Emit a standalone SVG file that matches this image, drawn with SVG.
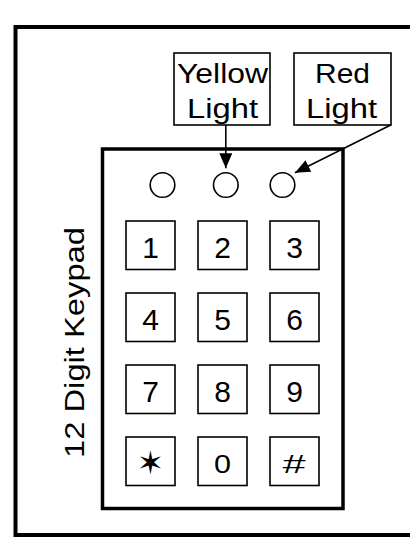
<svg xmlns="http://www.w3.org/2000/svg" width="410" height="557" viewBox="0 0 410 557">
<style>
.lbl{font-family:"Liberation Sans",Arial,sans-serif;font-size:27.5px;fill:#000;text-anchor:middle}
.dig{font-family:"Liberation Sans",Arial,sans-serif;font-size:30px;fill:#000;text-anchor:middle}
.key{fill:#fff;stroke:#000;stroke-width:1.6}
.led{fill:#fff;stroke:#000;stroke-width:1.6}
.box{fill:#fff;stroke:#000;stroke-width:1.6}
.conn{stroke:#000;stroke-width:1.6;fill:none}
</style>
<defs>
<marker id="ah" markerUnits="userSpaceOnUse" markerWidth="16" markerHeight="14" refX="15" refY="6.5" orient="auto">
<path d="M0,0 L15,6.5 L0,13 Z" fill="#000"/>
</marker>
</defs>
<rect width="410" height="557" fill="#fff"/>
<g id="frame"><rect x="15.5" y="27" width="420" height="508" fill="none" stroke="#000" stroke-width="4"/></g>
<g id="keypad">
<rect x="102.5" y="149" width="240.5" height="359.5" fill="#fff" stroke="#000" stroke-width="3.5"/>
<text transform="translate(83.5,342.5) rotate(-90)" class="lbl" textLength="231" lengthAdjust="spacingAndGlyphs">12 Digit Keypad</text>
</g>
<g id="leds">
<circle class="led" cx="162.5" cy="185" r="12.3"/>
<circle class="led" cx="225.8" cy="185" r="12.3"/>
<circle class="led" cx="282.5" cy="185" r="12.3"/>
</g>
<g id="yellow-light">
<rect class="box" x="174" y="53" width="96" height="72"/>
<text class="lbl" x="222.5" y="83.3" textLength="91" lengthAdjust="spacingAndGlyphs">Yellow</text>
<text class="lbl" x="222.5" y="118.3" textLength="71" lengthAdjust="spacingAndGlyphs">Light</text>
</g>
<g id="red-light">
<rect class="box" x="294" y="53" width="97" height="72"/>
<text class="lbl" x="342.5" y="83.3" textLength="55" lengthAdjust="spacingAndGlyphs">Red</text>
<text class="lbl" x="341.5" y="118.3" textLength="71" lengthAdjust="spacingAndGlyphs">Light</text>
</g>
<g id="connectors">
<line class="conn" x1="225.8" y1="125" x2="225.8" y2="168.3" marker-end="url(#ah)"/>
<line class="conn" x1="390.7" y1="125" x2="295" y2="172.7" marker-end="url(#ah)"/>
</g>
<g id="keys">
<g id="k1"><rect class="key" x="126" y="221" width="49" height="48.5"/><text class="dig" x="150.5" y="257.5">1</text></g>
<g id="k2"><rect class="key" x="198" y="221" width="49" height="48.5"/><text class="dig" x="222.5" y="257.5">2</text></g>
<g id="k3"><rect class="key" x="270" y="221" width="49" height="48.5"/><text class="dig" x="294.5" y="257.5">3</text></g>
<g id="k4"><rect class="key" x="126" y="293" width="49" height="48.5"/><text class="dig" x="150.5" y="329.5">4</text></g>
<g id="k5"><rect class="key" x="198" y="293" width="49" height="48.5"/><text class="dig" x="222.5" y="329.5">5</text></g>
<g id="k6"><rect class="key" x="270" y="293" width="49" height="48.5"/><text class="dig" x="294.5" y="329.5">6</text></g>
<g id="k7"><rect class="key" x="126" y="365" width="49" height="48.5"/><text class="dig" x="150.5" y="401.5">7</text></g>
<g id="k8"><rect class="key" x="198" y="365" width="49" height="48.5"/><text class="dig" x="222.5" y="401.5">8</text></g>
<g id="k9"><rect class="key" x="270" y="365" width="49" height="48.5"/><text class="dig" x="294.5" y="401.5">9</text></g>
<g id="kstar"><rect class="key" x="126" y="437" width="49" height="48.5"/><text class="dig" x="150.5" y="474" style="font-family:'DejaVu Sans',sans-serif;font-size:32px">✶</text></g>
<g id="k0"><rect class="key" x="198" y="437" width="49" height="48.5"/><text class="dig" x="222.5" y="473.3" style="font-size:25.5px" textLength="17" lengthAdjust="spacingAndGlyphs">0</text></g>
<g id="khash"><rect class="key" x="270" y="437" width="49" height="48.5"/><text class="dig" x="293.5" y="473.3" style="font-size:25px;font-style:italic" textLength="23" lengthAdjust="spacingAndGlyphs">#</text></g>
</g>
</svg>
